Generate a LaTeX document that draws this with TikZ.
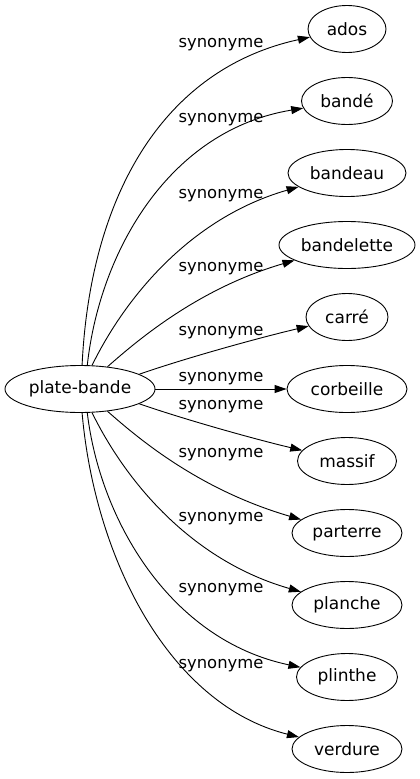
\documentclass[tikz,border=0pt]{standalone}
\usepackage{fontspec}
\setmainfont{DejaVu Sans}
\usetikzlibrary{arrows.meta,shapes.geometric}
\tikzset{
  wordnode/.style={draw, ellipse, line width=0.9pt, inner sep=0pt, minimum height=47pt,
    font=\fontsize{17}{20}\selectfont},
  rellabel/.style={inner sep=0pt, font=\fontsize{16.4}{19}\selectfont},
  reledge/.style={draw, line width=0.9pt, -{Triangle[length=12pt,width=8pt]}}
}
\begin{document}
\begin{tikzpicture}[x=1pt,y=-1pt]
\useasboundingbox (0,0) rectangle (420,779);
\node[wordnode, minimum width=150pt] (pb) at (80,389) {plate-bande};
\node[wordnode, minimum width=78pt] (ados) at (347,29) {ados};
\node[wordnode, minimum width=91pt] (bande) at (347,101) {bandé};
\node[wordnode, minimum width=118pt] (bandeau) at (347,173) {bandeau};
\node[wordnode, minimum width=136pt] (bandelette) at (347,245) {bandelette};
\node[wordnode, minimum width=82pt] (carre) at (347,317) {carré};
\node[wordnode, minimum width=120pt] (corbeille) at (347,389) {corbeille};
\node[wordnode, minimum width=99pt] (massif) at (347,461) {massif};
\node[wordnode, minimum width=110pt] (parterre) at (347,533) {parterre};
\node[wordnode, minimum width=110pt] (planche) at (347,605) {planche};
\node[wordnode, minimum width=101pt] (plinthe) at (347,677) {plinthe};
\node[wordnode, minimum width=110pt] (verdure) at (347,749) {verdure};

\path[reledge] (pb.85) .. controls (90,200) and (160,70) .. (ados);
\path[reledge] (pb.73) .. controls (100,250) and (170,130) .. (bande);
\path[reledge] (pb.63) .. controls (125,298) and (190,218) .. (bandeau);
\path[reledge] (pb.39) .. controls (140,338) and (200,288) .. (bandelette);
\path[reledge] (pb.14) .. controls (180,360) and (250,340) .. (carre);
\path[reledge] (pb) -- (corbeille);
\path[reledge] (pb.-14) .. controls (180,418) and (250,438) .. (massif);
\path[reledge] (pb.-39) .. controls (140,440) and (200,490) .. (parterre);
\path[reledge] (pb.-63) .. controls (125,480) and (190,560) .. (planche);
\path[reledge] (pb.-73) .. controls (100,520) and (170,640) .. (plinthe);
\path[reledge] (pb.-85) .. controls (95,560) and (170,705) .. (verdure);

\node[rellabel] (l1) at (221,44.5) {synonyme};
\node[rellabel] (l2) at (221,120) {synonyme};
\node[rellabel] (l3) at (221,196) {synonyme};
\node[rellabel] (l4) at (221,269) {synonyme};
\node[rellabel] (l5) at (221,333) {synonyme};
\node[rellabel] (l6) at (221,379) {synonyme};
\node[rellabel] (l7) at (221,407) {synonyme};
\node[rellabel] (l8) at (221,455) {synonyme};
\node[rellabel] (l9) at (221,519) {synonyme};
\node[rellabel] (l10) at (221,590) {synonyme};
\node[rellabel] (l11) at (221,666) {synonyme};
\end{tikzpicture}
\end{document}
